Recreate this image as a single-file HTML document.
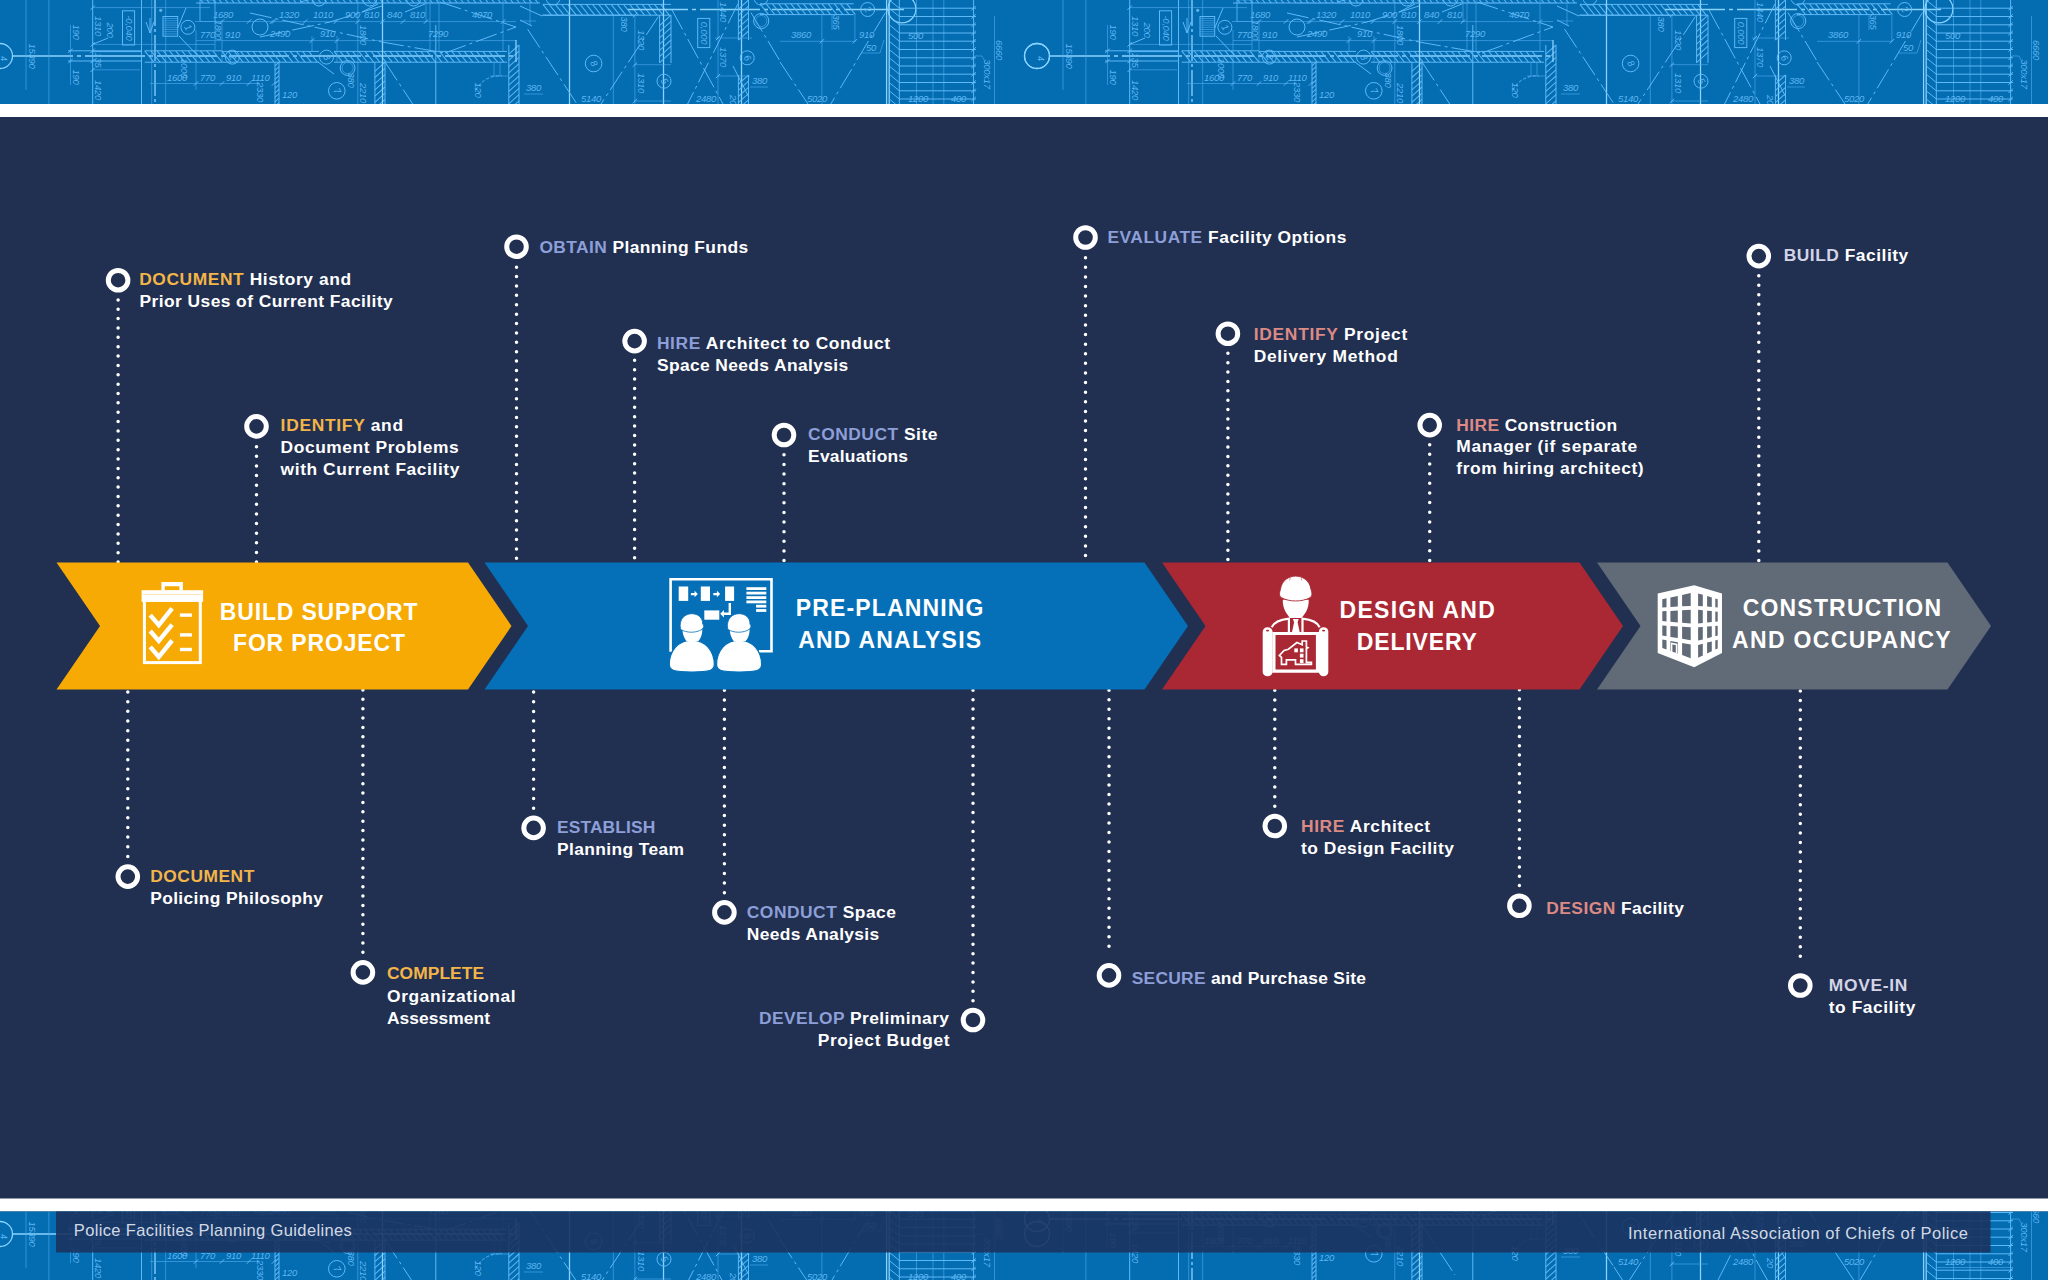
<!DOCTYPE html>
<html lang="en"><head><meta charset="utf-8"><title>Police Facilities Planning Guidelines</title>
<style>
html,body{margin:0;padding:0;background:#212f51;}
body{width:2048px;height:1280px;overflow:hidden;position:relative;font-family:"Liberation Sans",sans-serif;}
svg{position:absolute;left:0;top:0;display:block}
text{font-family:"Liberation Sans",sans-serif;}
.st{font-weight:bold;font-size:17.4px;fill:#fff}
.hd{font-weight:bold;font-size:23px;fill:#fff}
.ft{font-size:16.5px;fill:#e3e9f3;fill-opacity:.93}
.dl{stroke:#fff;stroke-width:3.5;stroke-linecap:round;fill:none}
.t,.m,.b,.h{fill:none}
.t{stroke:#4eaaec;stroke-width:.8;opacity:.8}
.m{stroke:#62bdfa;stroke-width:1;opacity:.95}
.h{stroke:#62bdfa;stroke-width:1.1;opacity:.9}
.b{stroke:#8ad2ff;stroke-width:1.3;opacity:1}
.bt{font-style:italic;font-size:9.5px;fill:#66bff9;opacity:.9;letter-spacing:-.3px}
</style></head><body>
<svg width="2048" height="1280" viewBox="0 0 2048 1280">
<defs>
<g id="bpt">
<circle class="b" cx="0.0" cy="56.0" r="12.5"/>
<circle class="b" cx="1037.0" cy="56.0" r="12.5"/>
<text class="bt" x="3" y="59" transform="rotate(80 3 56)">4</text>
<path class="b" d="M13,56H516" stroke-dasharray="60 4 4 4"/>
<path class="t" d="M26.0,0.0L26.0,90.0"/>
<path class="t" d="M48.9,0.0L48.9,125.0"/>
<path class="t" d="M70.5,25.0L70.5,85.0"/>
<path class="m" d="M92.7,0.0L92.7,125.0"/>
<path class="m" d="M141.5,0.0L141.5,125.0"/>
<path class="t" d="M151.7,0.0L151.7,125.0"/>
<path class="t" d="M165.7,0.0L165.7,125.0"/>
<path class="b" d="M155,0V125" stroke-dasharray="26 3 3 3"/>
<path class="t" d="M92.0,7.6L210.0,7.6"/>
<path class="t" d="M92.0,44.4L215.0,44.4"/>
<path class="m" d="M68.0,50.8L142.0,50.8"/>
<path class="m" d="M92.0,51.6L142.0,51.6"/>
<path class="m" d="M68.0,61.0L142.0,61.0"/>
<path class="t" d="M92.0,69.8L140.0,69.8"/>
<path class="t" d="M150.0,83.5L260.0,83.5"/>
<path class="t" d="M195.0,21.5L260.0,21.5"/>
<path class="m" d="M68.3,53.0l4.4,-4.4"/>
<path class="m" d="M68.3,63.2l4.4,-4.4"/>
<path class="m" d="M90.5,53.0l4.4,-4.4"/>
<path class="m" d="M90.5,63.2l4.4,-4.4"/>
<path class="m" d="M90.5,9.8l4.4,-4.4"/>
<path class="m" d="M90.5,46.6l4.4,-4.4"/>
<path class="m" d="M90.5,72.0l4.4,-4.4"/>
<rect class="m" x="122.5" y="10.8" width="12.1" height="34.2"/>
<text class="bt" text-anchor="middle" transform="translate(125.5 28.0) rotate(90)">-0,040</text>
<path class="m" d="M146,22l4,11l4,-11M150,18V33"/>
<rect class="m" x="163" y="16.5" width="14.7" height="19.7"/>
<path class="t" d="M163,18.5h14.7M163,20.7h14.7M163,22.9h14.7M163,25.1h14.7M163,27.3h14.7M163,29.5h14.7M163,31.7h14.7M163,33.9h14.7"/>
<circle cx="160.7" cy="10.3" r="1.6" fill="#7cc4f5" opacity=".8"/>
<path class="m" d="M177.7,28.0L186.0,8.0"/>
<path class="m" d="M179.0,36.0L200.0,58.0"/>
<path class="m" d="M92.7,44.4L108.0,38.0"/>
<circle class="m" cx="187.9" cy="27.3" r="7.0"/>
<text class="bt" x="187.9" y="30.3" text-anchor="middle" transform="rotate(60 187.9 27.3)">1</text>
<path class="m" d="M144.7,50.8L222.0,50.8"/>
<path class="m" d="M144.7,62.2L222.0,62.2"/>
<path class="h" d="M144.7,50.8l9.1,11.4M150.9,50.8l9.1,11.4M157.1,50.8l9.1,11.4M163.3,50.8l9.1,11.4M169.5,50.8l9.1,11.4M175.7,50.8l9.1,11.4M181.9,50.8l9.1,11.4M188.1,50.8l9.1,11.4M194.3,50.8l9.1,11.4M200.5,50.8l9.1,11.4M206.7,50.8l9.1,11.4M212.9,50.8l9.1,11.4"/>
<circle class="m" cx="232.3" cy="57.1" r="7.0"/>
<text class="bt" x="232.3" y="60.1" text-anchor="middle" transform="rotate(60 232.3 57.1)">2</text>
<text class="bt" text-anchor="middle" transform="translate(29.0 56.0) rotate(90)">15390</text>
<text class="bt" text-anchor="middle" transform="translate(73.0 32.0) rotate(90)">190</text>
<text class="bt" text-anchor="middle" transform="translate(73.0 77.0) rotate(90)">190</text>
<text class="bt" text-anchor="middle" transform="translate(95.0 26.0) rotate(90)">1310</text>
<text class="bt" text-anchor="middle" transform="translate(107.0 30.0) rotate(90)">200</text>
<text class="bt" text-anchor="middle" transform="translate(95.0 60.0) rotate(90)">135</text>
<text class="bt" text-anchor="middle" transform="translate(95.0 90.0) rotate(90)">1420</text>
<text class="bt" x="213.0" y="17.5">1680</text>
<text class="bt" x="200.0" y="38.0">770</text>
<text class="bt" x="225.0" y="38.0">910</text>
<text class="bt" x="167.0" y="80.5">1600</text>
<text class="bt" x="200.0" y="80.5">770</text>
<text class="bt" x="226.0" y="80.5">910</text>
<text class="bt" x="251.0" y="80.5">1110</text>
<text class="bt" text-anchor="middle" transform="translate(181.0 68.0) rotate(90)">1000</text>
<text class="bt" text-anchor="middle" transform="translate(215.0 30.0) rotate(90)">1800</text>
<text class="bt" text-anchor="middle" transform="translate(257.0 92.0) rotate(90)">2330</text>
<path class="m" d="M193.8,85.7l4.4,-4.4"/>
<path class="m" d="M219.8,85.7l4.4,-4.4"/>
<path class="m" d="M219.8,23.7l4.4,-4.4"/>
<path class="m" d="M246.8,85.7l4.4,-4.4"/>
<path class="m" d="M246.8,23.7l4.4,-4.4"/>
<path class="m" d="M271.8,85.7l4.4,-4.4"/>
<path class="m" d="M271.8,23.7l4.4,-4.4"/>
<path class="t" d="M196.0,30.0L196.0,90.0"/>
<path class="t" d="M222.0,20.0L222.0,62.0"/>
<path class="t" d="M215.0,0.0L215.0,50.0"/>
<path class="t" d="M200.0,0.0L200.0,22.0"/>
<rect class="t" x="200" y="0" width="15" height="21.5"/>
<path class="t" d="M196.0,40.6L260.0,40.6"/>
<path class="m" d="M196.0,-6.0L540.0,-6.0"/>
<path class="m" d="M196.0,3.0L540.0,3.0"/>
<path class="h" d="M196.0,-6.0l7.2,9.0M202.2,-6.0l7.2,9.0M208.4,-6.0l7.2,9.0M214.6,-6.0l7.2,9.0M220.8,-6.0l7.2,9.0M227.0,-6.0l7.2,9.0M233.2,-6.0l7.2,9.0M239.4,-6.0l7.2,9.0M245.6,-6.0l7.2,9.0M251.8,-6.0l7.2,9.0M258.0,-6.0l7.2,9.0M264.2,-6.0l7.2,9.0M270.4,-6.0l7.2,9.0M276.6,-6.0l7.2,9.0M282.8,-6.0l7.2,9.0M289.0,-6.0l7.2,9.0M295.2,-6.0l7.2,9.0M301.4,-6.0l7.2,9.0M307.6,-6.0l7.2,9.0M313.8,-6.0l7.2,9.0M320.0,-6.0l7.2,9.0M326.2,-6.0l7.2,9.0M332.4,-6.0l7.2,9.0M338.6,-6.0l7.2,9.0M344.8,-6.0l7.2,9.0M351.0,-6.0l7.2,9.0M357.2,-6.0l7.2,9.0M363.4,-6.0l7.2,9.0M369.6,-6.0l7.2,9.0M375.8,-6.0l7.2,9.0M382.0,-6.0l7.2,9.0M388.2,-6.0l7.2,9.0M394.4,-6.0l7.2,9.0M400.6,-6.0l7.2,9.0M406.8,-6.0l7.2,9.0M413.0,-6.0l7.2,9.0M419.2,-6.0l7.2,9.0M425.4,-6.0l7.2,9.0M431.6,-6.0l7.2,9.0M437.8,-6.0l7.2,9.0M444.0,-6.0l7.2,9.0M450.2,-6.0l7.2,9.0M456.4,-6.0l7.2,9.0M462.6,-6.0l7.2,9.0M468.8,-6.0l7.2,9.0M475.0,-6.0l7.2,9.0M481.2,-6.0l7.2,9.0M487.4,-6.0l7.2,9.0M493.6,-6.0l7.2,9.0M499.8,-6.0l7.2,9.0M506.0,-6.0l7.2,9.0M512.2,-6.0l7.2,9.0M518.4,-6.0l7.2,9.0M524.6,-6.0l7.2,9.0M530.8,-6.0l7.2,9.0"/>
<path class="m" d="M222.0,51.4L319.0,51.4"/>
<path class="m" d="M222.0,62.2L319.0,62.2"/>
<path class="h" d="M222.0,51.4l8.6,10.8M228.2,51.4l8.6,10.8M234.4,51.4l8.6,10.8M240.6,51.4l8.6,10.8M246.8,51.4l8.6,10.8M253.0,51.4l8.6,10.8M259.2,51.4l8.6,10.8M265.4,51.4l8.6,10.8M271.6,51.4l8.6,10.8M277.8,51.4l8.6,10.8M284.0,51.4l8.6,10.8M290.2,51.4l8.6,10.8M296.4,51.4l8.6,10.8M302.6,51.4l8.6,10.8M308.8,51.4l8.6,10.8"/>
<path class="m" d="M334.0,51.4L507.0,51.4"/>
<path class="m" d="M334.0,62.2L507.0,62.2"/>
<path class="h" d="M334.0,51.4l8.6,10.8M340.2,51.4l8.6,10.8M346.4,51.4l8.6,10.8M352.6,51.4l8.6,10.8M358.8,51.4l8.6,10.8M365.0,51.4l8.6,10.8M371.2,51.4l8.6,10.8M377.4,51.4l8.6,10.8M383.6,51.4l8.6,10.8M389.8,51.4l8.6,10.8M396.0,51.4l8.6,10.8M402.2,51.4l8.6,10.8M408.4,51.4l8.6,10.8M414.6,51.4l8.6,10.8M420.8,51.4l8.6,10.8M427.0,51.4l8.6,10.8M433.2,51.4l8.6,10.8M439.4,51.4l8.6,10.8M445.6,51.4l8.6,10.8M451.8,51.4l8.6,10.8M458.0,51.4l8.6,10.8M464.2,51.4l8.6,10.8M470.4,51.4l8.6,10.8M476.6,51.4l8.6,10.8M482.8,51.4l8.6,10.8M489.0,51.4l8.6,10.8M495.2,51.4l8.6,10.8"/>
<path class="m" d="M374.9,62.2L374.9,125.0"/>
<path class="m" d="M385.0,62.2L385.0,125.0"/>
<path class="h" d="M374.9,71.3l10.1,-9.1M374.9,77.5l10.1,-9.1M374.9,83.7l10.1,-9.1M374.9,89.9l10.1,-9.1M374.9,96.1l10.1,-9.1M374.9,102.3l10.1,-9.1M374.9,108.5l10.1,-9.1M374.9,114.7l10.1,-9.1M374.9,120.9l10.1,-9.1M374.9,127.1l10.1,-9.1"/>
<path class="m" d="M275.0,62.2L275.0,125.0"/>
<path class="m" d="M279.0,62.2L279.0,125.0"/>
<path class="h" d="M275.0,65.8l4.0,-3.6M275.0,70.3l4.0,-3.6M275.0,74.8l4.0,-3.6M275.0,79.3l4.0,-3.6M275.0,83.8l4.0,-3.6M275.0,88.3l4.0,-3.6M275.0,92.8l4.0,-3.6M275.0,97.3l4.0,-3.6M275.0,101.8l4.0,-3.6M275.0,106.3l4.0,-3.6M275.0,110.8l4.0,-3.6M275.0,115.3l4.0,-3.6M275.0,119.8l4.0,-3.6M275.0,124.3l4.0,-3.6"/>
<path class="m" d="M508.8,45.0L508.8,125.0"/>
<path class="m" d="M519.0,45.0L519.0,125.0"/>
<path class="h" d="M508.8,54.2l10.2,-9.2M508.8,60.4l10.2,-9.2M508.8,66.6l10.2,-9.2M508.8,72.8l10.2,-9.2M508.8,79.0l10.2,-9.2M508.8,85.2l10.2,-9.2M508.8,91.4l10.2,-9.2M508.8,97.6l10.2,-9.2M508.8,103.8l10.2,-9.2M508.8,110.0l10.2,-9.2M508.8,116.2l10.2,-9.2M508.8,122.4l10.2,-9.2"/>
<path class="b" d="M382.5,0.0L382.5,125.0"/>
<path class="m" d="M435.8,25.0L435.8,125.0"/>
<path class="t" d="M357.8,0.0L357.8,125.0"/>
<path class="t" d="M430.0,0.0L430.0,52.0"/>
<path class="t" d="M439.0,0.0L439.0,52.0"/>
<path class="t" d="M312.0,36.0L312.0,52.0"/>
<path class="t" d="M337.0,36.0L337.0,62.0"/>
<path class="t" d="M426.0,0.0L426.0,22.0"/>
<path class="t" d="M503.0,0.0L503.0,52.0"/>
<path class="t" d="M260.0,21.6L516.0,21.6"/>
<path class="t" d="M260.0,40.6L516.0,40.6"/>
<path class="t" d="M260.0,3.0L520.0,3.0"/>
<path class="m" d="M269.8,23.8l4.4,-4.4"/>
<path class="m" d="M302.8,23.8l4.4,-4.4"/>
<path class="m" d="M333.8,23.8l4.4,-4.4"/>
<path class="m" d="M355.6,23.8l4.4,-4.4"/>
<path class="m" d="M380.3,23.8l4.4,-4.4"/>
<path class="m" d="M400.8,23.8l4.4,-4.4"/>
<path class="m" d="M423.8,23.8l4.4,-4.4"/>
<path class="m" d="M500.8,23.8l4.4,-4.4"/>
<path class="m" d="M309.8,42.8l4.4,-4.4"/>
<path class="m" d="M334.8,42.8l4.4,-4.4"/>
<path class="m" d="M250.0,13.0L382.0,42.0" stroke-dasharray="22 4 3 4"/>
<path class="m" d="M382.0,42.0L445.0,53.0" stroke-dasharray="22 4 3 4"/>
<path class="m" d="M445.0,53.0L516.0,27.0" stroke-dasharray="22 4 3 4"/>
<path class="m" d="M440.0,2.0L516.0,27.0" stroke-dasharray="22 4 3 4"/>
<path class="m" d="M260.0,37.0L330.0,22.0" stroke-dasharray="22 4 3 4"/>
<path class="m" d="M330.0,22.0L382.0,6.0" stroke-dasharray="22 4 3 4"/>
<path class="m" d="M318.0,62.0L334.0,74.0"/>
<path class="m" d="M300.0,2.0L340.0,-8.0"/>
<path class="m" d="M362.0,12.0L378.0,4.0"/>
<path class="m" d="M405.0,12.0L425.0,4.0"/>
<circle class="m" cx="326.5" cy="57.1" r="7.0"/>
<text class="bt" x="326.5" y="60.1" text-anchor="middle" transform="rotate(60 326.5 57.1)">3</text>
<circle class="m" cx="336.8" cy="90.8" r="8.3"/>
<text class="bt" x="336.8" y="93.8" text-anchor="middle" transform="rotate(60 336.8 90.8)">7</text>
<circle class="m" cx="347.6" cy="68.0" r="7.4"/>
<circle class="t" cx="347.6" cy="68.0" r="5.6"/>
<circle class="m" cx="319.0" cy="-1.0" r="7.0"/>
<circle class="m" cx="369.8" cy="-1.0" r="7.0"/>
<circle class="m" cx="413.6" cy="-1.0" r="7.0"/>
<circle class="m" cx="260.0" cy="27.0" r="8.0"/>
<text class="bt" x="279.0" y="18.0">1320</text>
<text class="bt" x="313.0" y="18.0">1010</text>
<text class="bt" x="345.0" y="18.0">900</text>
<text class="bt" x="364.0" y="18.0">810</text>
<text class="bt" x="387.0" y="18.0">840</text>
<text class="bt" x="410.0" y="18.0">810</text>
<text class="bt" x="472.0" y="18.0">4070</text>
<text class="bt" x="270.0" y="37.0">2490</text>
<text class="bt" x="320.0" y="37.0">910</text>
<text class="bt" text-anchor="middle" transform="translate(360.0 35.0) rotate(90)">1800</text>
<text class="bt" x="428.0" y="37.0">7290</text>
<text class="bt" text-anchor="middle" transform="translate(360.0 93.0) rotate(90)">2210</text>
<text class="bt" x="282.0" y="98.0">120</text>
<text class="bt" text-anchor="middle" transform="translate(475.0 90.0) rotate(90)">120</text>
<text class="bt" text-anchor="middle" transform="translate(348.0 80.0) rotate(90)">380</text>
<path class="m" d="M385.0,62.0L418.0,112.0" stroke-dasharray="22 4 3 4"/>
<path class="m" d="M476,90a26,26 0 0 1 26,-14" stroke-dasharray="3 2"/>
<path class="t" d="M490.0,76.0L508.0,76.0"/>
<path class="t" d="M494.0,62.0L494.0,76.0"/>
<path class="t" d="M500.0,62.0L500.0,76.0"/>
<path class="b" d="M516.0,40.0L516.0,62.0"/>
<path class="m" d="M542.9,4.4L671.0,4.4"/>
<path class="m" d="M542.9,15.2L671.0,15.2"/>
<path class="h" d="M542.9,4.4l8.6,10.8M549.1,4.4l8.6,10.8M555.3,4.4l8.6,10.8M561.5,4.4l8.6,10.8M567.7,4.4l8.6,10.8M573.9,4.4l8.6,10.8M580.1,4.4l8.6,10.8M586.3,4.4l8.6,10.8M592.5,4.4l8.6,10.8M598.7,4.4l8.6,10.8M604.9,4.4l8.6,10.8M611.1,4.4l8.6,10.8M617.3,4.4l8.6,10.8M623.5,4.4l8.6,10.8M629.7,4.4l8.6,10.8M635.9,4.4l8.6,10.8M642.1,4.4l8.6,10.8M648.3,4.4l8.6,10.8M654.5,4.4l8.6,10.8M660.7,4.4l8.6,10.8"/>
<path class="b" d="M628,9.5H907" stroke-dasharray="60 4 4 4"/>
<path class="b" d="M569.5,0.0L569.5,125.0"/>
<path class="b" d="M663.5,0.0L663.5,125.0"/>
<path class="t" d="M613.3,15.0L613.3,125.0"/>
<path class="t" d="M634.9,15.0L634.9,125.0"/>
<path class="t" d="M718.0,0.0L718.0,125.0"/>
<path class="b" d="M741.5,0.0L741.5,125.0"/>
<path class="m" d="M659.6,15.2L659.6,63.0"/>
<path class="m" d="M671.0,15.2L671.0,63.0"/>
<path class="h" d="M659.6,25.5l11.4,-10.3M659.6,31.7l11.4,-10.3M659.6,37.9l11.4,-10.3M659.6,44.1l11.4,-10.3M659.6,50.3l11.4,-10.3M659.6,56.5l11.4,-10.3M659.6,62.7l11.4,-10.3"/>
<path class="m" d="M738.4,0.0L738.4,40.0"/>
<path class="m" d="M748.5,0.0L748.5,40.0"/>
<path class="h" d="M738.4,9.1l10.1,-9.1M738.4,15.3l10.1,-9.1M738.4,21.5l10.1,-9.1M738.4,27.7l10.1,-9.1M738.4,33.9l10.1,-9.1M738.4,40.1l10.1,-9.1"/>
<path class="m" d="M738.4,75.0L738.4,125.0"/>
<path class="m" d="M748.5,75.0L748.5,125.0"/>
<path class="h" d="M738.4,84.1l10.1,-9.1M738.4,90.3l10.1,-9.1M738.4,96.5l10.1,-9.1M738.4,102.7l10.1,-9.1M738.4,108.9l10.1,-9.1M738.4,115.1l10.1,-9.1M738.4,121.3l10.1,-9.1M738.4,127.5l10.1,-9.1"/>
<path class="m" d="M527.6,29.2L577.0,104.0" stroke-dasharray="22 4 3 4"/>
<path class="m" d="M658.4,16.5L601.0,104.0" stroke-dasharray="22 4 3 4"/>
<path class="m" d="M672.0,10.0L723.0,104.0" stroke-dasharray="22 4 3 4"/>
<path class="m" d="M738.0,3.8L687.6,104.0" stroke-dasharray="22 4 3 4"/>
<path class="m" d="M751.0,12.7L780.0,61.0" stroke-dasharray="22 4 3 4"/>
<path class="m" d="M577.0,104.0L590.0,124.0" stroke-dasharray="22 4 3 4"/>
<path class="m" d="M601.0,104.0L590.0,121.0" stroke-dasharray="22 4 3 4"/>
<path class="m" d="M723.0,104.0L735.0,125.0" stroke-dasharray="22 4 3 4"/>
<path class="m" d="M687.6,104.0L677.0,125.0" stroke-dasharray="22 4 3 4"/>
<path class="m" d="M733.0,66.0L748.5,96.5"/>
<path class="m" d="M520.0,6.0L542.0,16.0"/>
<path class="m" d="M520.0,20.0L532.0,26.0"/>
<path class="t" d="M530.0,0.0L530.0,26.0"/>
<path class="t" d="M520.0,21.0L536.0,21.0"/>
<path class="t" d="M715.0,38.0L752.0,38.0"/>
<path class="t" d="M634.0,64.7L671.0,64.7"/>
<path class="t" d="M718.0,76.0L750.0,76.0"/>
<path class="t" d="M634.0,101.0L671.0,101.0"/>
<path class="m" d="M542.0,15.2L634.0,15.2"/>
<path class="m" d="M715.8,40.2l4.4,-4.4"/>
<path class="m" d="M715.8,78.2l4.4,-4.4"/>
<path class="m" d="M632.7,17.4l4.4,-4.4"/>
<path class="m" d="M632.7,66.9l4.4,-4.4"/>
<path class="m" d="M632.7,103.2l4.4,-4.4"/>
<circle class="m" cx="593.6" cy="63.5" r="8.3"/>
<text class="bt" x="593.6" y="66.5" text-anchor="middle" transform="rotate(60 593.6 63.5)">8</text>
<circle class="m" cx="664.0" cy="81.2" r="7.0"/>
<text class="bt" x="664.0" y="84.2" text-anchor="middle" transform="rotate(60 664.0 81.2)">5</text>
<circle class="m" cx="747.2" cy="57.8" r="7.0"/>
<text class="bt" x="747.2" y="60.8" text-anchor="middle" transform="rotate(60 747.2 57.8)">6</text>
<circle class="m" cx="761.2" cy="21.0" r="7.6"/>
<circle class="t" cx="761.2" cy="21.0" r="5.6"/>
<circle class="m" cx="553.0" cy="-2.0" r="7.0"/>
<circle class="m" cx="761.0" cy="-2.0" r="7.0"/>
<rect class="m" x="697.7" y="18.4" width="12.1" height="29.2"/>
<text class="bt" text-anchor="middle" transform="translate(700.7 33.0) rotate(90)">0,000</text>
<text class="bt" text-anchor="middle" transform="translate(621.0 24.0) rotate(90)">380</text>
<text class="bt" text-anchor="middle" transform="translate(638.0 40.0) rotate(90)">1320</text>
<text class="bt" text-anchor="middle" transform="translate(638.0 83.0) rotate(90)">1310</text>
<text class="bt" x="526.0" y="91.0">380</text>
<path class="t" d="M524.0,94.0L543.0,94.0"/>
<text class="bt" x="581.0" y="102.0">5140</text>
<text class="bt" text-anchor="middle" transform="translate(720.0 12.0) rotate(90)">1440</text>
<text class="bt" text-anchor="middle" transform="translate(720.0 57.0) rotate(90)">1370</text>
<text class="bt" x="752.0" y="84.0">380</text>
<path class="t" d="M750.0,87.0L768.0,87.0"/>
<text class="bt" x="696.0" y="102.0">2480</text>
<text class="bt" text-anchor="middle" transform="translate(730.0 100.0) rotate(90)">20</text>
<path class="m" d="M760.0,3.8L853.6,3.8"/>
<path class="m" d="M760.0,14.6L853.6,14.6"/>
<path class="h" d="M760.0,3.8l8.6,10.8M766.2,3.8l8.6,10.8M772.4,3.8l8.6,10.8M778.6,3.8l8.6,10.8M784.8,3.8l8.6,10.8M791.0,3.8l8.6,10.8M797.2,3.8l8.6,10.8M803.4,3.8l8.6,10.8M809.6,3.8l8.6,10.8M815.8,3.8l8.6,10.8M822.0,3.8l8.6,10.8M828.2,3.8l8.6,10.8M834.4,3.8l8.6,10.8M840.6,3.8l8.6,10.8M846.8,3.8l8.6,10.8"/>
<circle class="m" cx="867.6" cy="9.5" r="7.0"/>
<text class="bt" x="867.6" y="12.5" text-anchor="middle" transform="rotate(60 867.6 9.5)">2</text>
<circle class="b" cx="901.9" cy="8.9" r="14.0"/>
<path class="t" d="M821.9,15.0L821.9,125.0"/>
<path class="t" d="M854.9,15.0L854.9,42.0"/>
<path class="b" d="M886.6,0.0L886.6,125.0"/>
<path class="b" d="M889.2,0.0L889.2,125.0"/>
<path class="m" d="M899.3,0.0L899.3,125.0"/>
<path class="t" d="M916.5,0.0L916.5,125.0"/>
<path class="t" d="M933.0,0.0L933.0,125.0"/>
<path class="t" d="M943.8,0.0L943.8,125.0"/>
<path class="m" d="M973.6,0.0L973.6,125.0"/>
<path class="t" d="M994.5,16.0L994.5,125.0"/>
<path class="m" d="M899.3,8.2L976.0,8.2"/>
<path class="m" d="M971.4,10.4l4.4,-4.4"/>
<path class="m" d="M889.2,0.0L899.3,8.2"/>
<path class="m" d="M899.3,16.5L976.0,16.5"/>
<path class="m" d="M971.4,18.7l4.4,-4.4"/>
<path class="m" d="M889.2,8.2L899.3,16.5"/>
<path class="m" d="M899.3,24.8L976.0,24.8"/>
<path class="m" d="M971.4,26.9l4.4,-4.4"/>
<path class="m" d="M889.2,16.5L899.3,24.8"/>
<path class="m" d="M899.3,33.0L976.0,33.0"/>
<path class="m" d="M971.4,35.2l4.4,-4.4"/>
<path class="m" d="M889.2,24.8L899.3,33.0"/>
<path class="m" d="M899.3,41.2L976.0,41.2"/>
<path class="m" d="M971.4,43.5l4.4,-4.4"/>
<path class="m" d="M889.2,33.0L899.3,41.2"/>
<path class="m" d="M899.3,49.5L976.0,49.5"/>
<path class="m" d="M971.4,51.7l4.4,-4.4"/>
<path class="m" d="M889.2,41.2L899.3,49.5"/>
<path class="m" d="M899.3,57.8L976.0,57.8"/>
<path class="m" d="M971.4,60.0l4.4,-4.4"/>
<path class="m" d="M889.2,49.5L899.3,57.8"/>
<path class="m" d="M899.3,66.0L976.0,66.0"/>
<path class="m" d="M971.4,68.2l4.4,-4.4"/>
<path class="m" d="M889.2,57.8L899.3,66.0"/>
<path class="m" d="M899.3,74.2L976.0,74.2"/>
<path class="m" d="M971.4,76.5l4.4,-4.4"/>
<path class="m" d="M889.2,66.0L899.3,74.2"/>
<path class="m" d="M899.3,82.5L976.0,82.5"/>
<path class="m" d="M971.4,84.7l4.4,-4.4"/>
<path class="m" d="M889.2,74.2L899.3,82.5"/>
<path class="m" d="M899.3,90.8L976.0,90.8"/>
<path class="m" d="M971.4,93.0l4.4,-4.4"/>
<path class="m" d="M889.2,82.5L899.3,90.8"/>
<path class="m" d="M899.3,99.0L976.0,99.0"/>
<path class="m" d="M971.4,101.2l4.4,-4.4"/>
<path class="m" d="M889.2,90.8L899.3,99.0"/>
<path class="m" d="M899.3,107.2L976.0,107.2"/>
<path class="m" d="M971.4,109.5l4.4,-4.4"/>
<path class="m" d="M889.2,99.0L899.3,107.2"/>
<path class="m" d="M899.3,115.5L976.0,115.5"/>
<path class="m" d="M971.4,117.7l4.4,-4.4"/>
<path class="m" d="M889.2,107.2L899.3,115.5"/>
<path class="t" d="M780.0,41.3L855.0,41.3"/>
<path class="m" d="M819.7,43.5l4.4,-4.4"/>
<path class="m" d="M852.7,43.5l4.4,-4.4"/>
<text class="bt" x="791.0" y="38.0">3860</text>
<text class="bt" x="859.0" y="38.0">910</text>
<text class="bt" x="866.0" y="51.0">50</text>
<path class="t" d="M862.0,53.0L880.0,53.0"/>
<path class="t" d="M880.0,53.0L884.0,40.0"/>
<text class="bt" x="908.0" y="39.0">500</text>
<text class="bt" x="807.0" y="102.0">5020</text>
<text class="bt" x="908.0" y="102.0">1200</text>
<text class="bt" x="951.0" y="102.0">400</text>
<text class="bt" text-anchor="middle" transform="translate(984.0 74.0) rotate(90)">300x17</text>
<text class="bt" text-anchor="middle" transform="translate(996.0 50.0) rotate(90)">6660</text>
<text class="bt" text-anchor="middle" transform="translate(833.0 22.0) rotate(90)">365</text>
<path class="t" d="M899.0,104.5L976.0,104.5"/>
<path class="t" d="M832.0,14.6L832.0,30.0"/>
<path class="m" d="M780.0,62.0L808.0,104.0" stroke-dasharray="22 4 3 4"/>
<path class="m" d="M885.4,12.7L830.8,104.0" stroke-dasharray="22 4 3 4"/>
<path class="m" d="M808.0,104.0L820.0,122.0" stroke-dasharray="22 4 3 4"/>
<path class="m" d="M830.8,104.0L820.0,122.0" stroke-dasharray="22 4 3 4"/>
<path class="t" d="M976.0,56.0L982.0,56.0"/>
<path class="t" d="M982.0,56.0L984.0,60.0"/>
</g>
<clipPath id="ct"><rect x="0" y="0" width="2048" height="104"/></clipPath><clipPath id="cb"><rect x="0" y="1211.5" width="2048" height="68.5"/></clipPath>
</defs>
<rect x="0" y="0" width="2048" height="1280" fill="#212f51"/>
<g id="topband"><rect x="0" y="0" width="2048" height="104" fill="#046cb1"/><g clip-path="url(#ct)"><use href="#bpt"/><use href="#bpt" x="1037"/></g></g>
<rect x="0" y="104" width="2048" height="13" fill="#fff"/>
<rect x="0" y="1198.5" width="2048" height="13" fill="#fff"/>
<g id="botband"><rect x="0" y="1211.5" width="2048" height="69" fill="#046cb1"/><g clip-path="url(#cb)"><use href="#bpt" x="0" y="1178"/><use href="#bpt" x="1037" y="1163"/></g></g>
<rect x="56" y="1211.5" width="1934.5" height="41" fill="#1b3361" fill-opacity="0.9"/>
<text class="ft" x="73.8" y="1236" textLength="278">Police Facilities Planning Guidelines</text>
<text class="ft" x="1628" y="1238.7" textLength="340">International Association of Chiefs of Police</text>
<path class="dl" d="M118.1,299.9V562.01" stroke-dasharray="0 9.361"/>
<path class="dl" d="M256.5,446.7V562.01" stroke-dasharray="0 9.608"/>
<path class="dl" d="M516.5,267.2V558.31" stroke-dasharray="0 9.390"/>
<path class="dl" d="M634.6,360.3V557.71" stroke-dasharray="0 9.400"/>
<path class="dl" d="M784.0,454.8V560.51" stroke-dasharray="0 9.609"/>
<path class="dl" d="M1085.5,257.7V555.51" stroke-dasharray="0 9.606"/>
<path class="dl" d="M1227.9,353.3V559.61" stroke-dasharray="0 9.377"/>
<path class="dl" d="M1429.7,444.7V560.51" stroke-dasharray="0 9.650"/>
<path class="dl" d="M1758.8,275.8V560.51" stroke-dasharray="0 9.490"/>
<path class="dl" d="M127.8,692.0V856.41" stroke-dasharray="0 9.671"/>
<path class="dl" d="M362.9,690.0V952.31" stroke-dasharray="0 9.368"/>
<path class="dl" d="M533.6,692.0V808.31" stroke-dasharray="0 9.692"/>
<path class="dl" d="M724.4,690.3V892.71" stroke-dasharray="0 9.638"/>
<path class="dl" d="M973.0,690.3V1000.71" stroke-dasharray="0 9.406"/>
<path class="dl" d="M1109.0,690.3V955.71" stroke-dasharray="0 9.479"/>
<path class="dl" d="M1274.8,690.3V806.31" stroke-dasharray="0 9.667"/>
<path class="dl" d="M1519.4,689.8V885.61" stroke-dasharray="0 9.324"/>
<path class="dl" d="M1800.3,691.1V965.61" stroke-dasharray="0 9.466"/>
<polygon fill="#f6aa03" points="56.5,562.5 468,562.5 511.5,626.0 468,689.5 56.5,689.5 100.0,626.0"/>
<polygon fill="#0570b8" points="484.5,562.5 1144.5,562.5 1188.0,626.0 1144.5,689.5 484.5,689.5 528.0,626.0"/>
<polygon fill="#aa2834" points="1162,562.5 1579.5,562.5 1623.0,626.0 1579.5,689.5 1162,689.5 1205.5,626.0"/>
<polygon fill="#616a77" points="1597,562.5 1947.5,562.5 1991.0,626.0 1947.5,689.5 1597,689.5 1640.5,626.0"/>
<circle cx="118.1" cy="280.2" r="9.8" fill="#212f51" stroke="#fff" stroke-width="5"/>
<text class="st" x="139.2" y="284.9" textLength="211.8" xml:space="preserve"><tspan fill="#f3b548">DOCUMENT</tspan> History and</text>
<text class="st" x="139.5" y="306.6" textLength="253.2" xml:space="preserve">Prior Uses of Current Facility</text>
<circle cx="256.5" cy="426.4" r="9.8" fill="#212f51" stroke="#fff" stroke-width="5"/>
<text class="st" x="280.6" y="431.1" textLength="122.4" xml:space="preserve"><tspan fill="#f3b548">IDENTIFY</tspan> and</text>
<text class="st" x="280.6" y="453.1" textLength="178.1" xml:space="preserve">Document Problems</text>
<text class="st" x="280.6" y="474.9" textLength="178.8" xml:space="preserve">with Current Facility</text>
<circle cx="516.5" cy="246.7" r="9.8" fill="#212f51" stroke="#fff" stroke-width="5"/>
<text class="st" x="539.4" y="252.8" textLength="208.7" xml:space="preserve"><tspan fill="#8d9fd8">OBTAIN</tspan> Planning Funds</text>
<circle cx="634.6" cy="341.1" r="9.8" fill="#212f51" stroke="#fff" stroke-width="5"/>
<text class="st" x="656.9" y="348.6" textLength="233.1" xml:space="preserve"><tspan fill="#8d9fd8">HIRE</tspan> Architect to Conduct</text>
<text class="st" x="656.9" y="370.6" textLength="191.3" xml:space="preserve">Space Needs Analysis</text>
<circle cx="784.0" cy="435.0" r="9.8" fill="#212f51" stroke="#fff" stroke-width="5"/>
<text class="st" x="808.1" y="439.9" textLength="129.3" xml:space="preserve"><tspan fill="#8d9fd8">CONDUCT</tspan> Site</text>
<text class="st" x="808.1" y="461.9" textLength="99.9" xml:space="preserve">Evaluations</text>
<circle cx="1085.5" cy="237.5" r="9.8" fill="#212f51" stroke="#fff" stroke-width="5"/>
<text class="st" x="1107.4" y="243.1" textLength="238.9" xml:space="preserve"><tspan fill="#8d9fd8">EVALUATE</tspan> Facility Options</text>
<circle cx="1227.9" cy="333.7" r="9.8" fill="#212f51" stroke="#fff" stroke-width="5"/>
<text class="st" x="1253.7" y="340.2" textLength="153.5" xml:space="preserve"><tspan fill="#dc8a84">IDENTIFY</tspan> Project</text>
<text class="st" x="1253.7" y="361.8" textLength="144.1" xml:space="preserve">Delivery Method</text>
<circle cx="1429.7" cy="425.1" r="9.8" fill="#212f51" stroke="#fff" stroke-width="5"/>
<text class="st" x="1456.3" y="430.5" textLength="160.9" xml:space="preserve"><tspan fill="#dc8a84">HIRE</tspan> Construction</text>
<text class="st" x="1456.3" y="452.3" textLength="180.9" xml:space="preserve">Manager (if separate</text>
<text class="st" x="1456.3" y="474.3" textLength="187.3" xml:space="preserve">from hiring architect)</text>
<circle cx="1758.8" cy="256.1" r="9.8" fill="#212f51" stroke="#fff" stroke-width="5"/>
<text class="st" x="1783.7" y="260.6" textLength="124.5" xml:space="preserve"><tspan fill="#d3d4e6">BUILD</tspan> Facility</text>
<circle cx="127.8" cy="876.6" r="9.8" fill="#212f51" stroke="#fff" stroke-width="5"/>
<text class="st" x="150.2" y="882.3" textLength="104.1" xml:space="preserve"><tspan fill="#f3b548">DOCUMENT</tspan></text>
<text class="st" x="150.2" y="904.3" textLength="172.8" xml:space="preserve">Policing Philosophy</text>
<circle cx="362.9" cy="972.4" r="9.8" fill="#212f51" stroke="#fff" stroke-width="5"/>
<text class="st" x="387.0" y="979.3" textLength="97.0" xml:space="preserve"><tspan fill="#f3b548">COMPLETE</tspan></text>
<text class="st" x="387.0" y="1001.6" textLength="128.7" xml:space="preserve">Organizational</text>
<text class="st" x="387.0" y="1023.8" textLength="103.0" xml:space="preserve">Assessment</text>
<circle cx="533.6" cy="827.9" r="9.8" fill="#212f51" stroke="#fff" stroke-width="5"/>
<text class="st" x="557.0" y="832.7" textLength="98.3" xml:space="preserve"><tspan fill="#8d9fd8">ESTABLISH</tspan></text>
<text class="st" x="557.0" y="854.6" textLength="127.0" xml:space="preserve">Planning Team</text>
<circle cx="724.4" cy="912.4" r="9.8" fill="#212f51" stroke="#fff" stroke-width="5"/>
<text class="st" x="746.8" y="917.7" textLength="149.1" xml:space="preserve"><tspan fill="#8d9fd8">CONDUCT</tspan> Space</text>
<text class="st" x="746.8" y="939.8" textLength="132.4" xml:space="preserve">Needs Analysis</text>
<circle cx="973.0" cy="1020.0" r="9.8" fill="#212f51" stroke="#fff" stroke-width="5"/>
<text class="st" x="759.0" y="1023.5" textLength="190.0" xml:space="preserve"><tspan fill="#8d9fd8">DEVELOP</tspan> Preliminary</text>
<text class="st" x="817.7" y="1045.7" textLength="131.9" xml:space="preserve">Project Budget</text>
<circle cx="1109.0" cy="975.4" r="9.8" fill="#212f51" stroke="#fff" stroke-width="5"/>
<text class="st" x="1131.7" y="983.5" textLength="234.3" xml:space="preserve"><tspan fill="#8d9fd8">SECURE</tspan> and Purchase Site</text>
<circle cx="1274.8" cy="826.0" r="9.8" fill="#212f51" stroke="#fff" stroke-width="5"/>
<text class="st" x="1301.0" y="832.1" textLength="129.1" xml:space="preserve"><tspan fill="#dc8a84">HIRE</tspan> Architect</text>
<text class="st" x="1301.0" y="854.1" textLength="152.9" xml:space="preserve">to Design Facility</text>
<circle cx="1519.4" cy="905.8" r="9.8" fill="#212f51" stroke="#fff" stroke-width="5"/>
<text class="st" x="1546.3" y="913.6" textLength="137.7" xml:space="preserve"><tspan fill="#dc8a84">DESIGN</tspan> Facility</text>
<circle cx="1800.3" cy="985.5" r="9.8" fill="#212f51" stroke="#fff" stroke-width="5"/>
<text class="st" x="1828.8" y="990.5" textLength="78.5" xml:space="preserve"><tspan fill="#d3d4e6">MOVE-IN</tspan></text>
<text class="st" x="1828.8" y="1012.5" textLength="86.5" xml:space="preserve">to Facility</text>
<text class="hd" x="219.8" y="619.8" textLength="197.8">BUILD SUPPORT</text>
<text class="hd" x="233" y="651.2" textLength="172.0">FOR PROJECT</text>
<text class="hd" x="795.8" y="616.4" textLength="187.7">PRE-PLANNING</text>
<text class="hd" x="798.2" y="647.8" textLength="182.9">AND ANALYSIS</text>
<text class="hd" x="1339.5" y="618.4" textLength="155.4">DESIGN AND</text>
<text class="hd" x="1356.8" y="649.8" textLength="120.1">DELIVERY</text>
<text class="hd" x="1742.7" y="616.4" textLength="198.3">CONSTRUCTION</text>
<text class="hd" x="1732.0" y="647.6" textLength="218.7">AND OCCUPANCY</text>
<g id="ico1" fill="#fff">
<path fill-rule="evenodd" d="M161.4,582.0H182.9V590.6H161.4Z M164.8,586.3H179.4V589.9H164.8Z"/>
<rect x="141.6" y="590.2" width="61.5" height="11.6"/>
<rect x="142.9" y="594.3" width="58.9" height="0.5" fill="#f6aa03" opacity="0.6"/>
<rect x="144.4" y="600.3" width="55.9" height="62.3" fill="none" stroke="#fff" stroke-width="3.0"/>
<polyline fill="none" stroke="#fff" stroke-width="4.4" stroke-linecap="butt" stroke-linejoin="miter" points="150.2,615.1 158.8,625.0 172.1,608.3"/>
<polyline fill="none" stroke="#fff" stroke-width="4.4" stroke-linecap="butt" stroke-linejoin="miter" points="150.2,631.0 158.8,640.9 172.1,624.6"/>
<polyline fill="none" stroke="#fff" stroke-width="4.4" stroke-linecap="butt" stroke-linejoin="miter" points="150.2,646.9 158.8,656.8 172.1,640.5"/>
<rect x="179.9" y="613.4" width="12.0" height="3.4"/>
<rect x="179.9" y="633.2" width="12.0" height="3.4"/>
<rect x="179.9" y="647.8" width="12.0" height="3.4"/>
</g>
<g id="ico2" fill="#fff">
<path fill="none" stroke="#fff" stroke-width="2.6" d="M758.9,651.2H771.5V579.2H670.6V651.7"/>
<rect x="678.7" y="586.5" width="9.5" height="14.4"/>
<rect x="700.8" y="586.5" width="9.2" height="14.4"/>
<rect x="725.1" y="586.5" width="9.0" height="14.4"/>
<rect x="704.3" y="610.4" width="15.0" height="9.3"/>
<path d="M690.9,593.0H694.6V590.8L697.8,594.1L694.6,597.3V595.2H690.9Z"/>
<path d="M713.3,593.0H716.9V590.8L720.2,594.1L716.9,597.3V595.2H713.3Z"/>
<path fill="none" stroke="#fff" stroke-width="2.4" d="M729.8,603.1V613.7H723.2"/>
<path d="M720.2,613.7L724.0,610.0V617.4Z"/>
<rect x="746.4" y="587.2" width="19.9" height="2.8"/>
<rect x="746.4" y="591.7" width="19.9" height="2.8"/>
<rect x="746.4" y="596.2" width="19.9" height="2.8"/>
<rect x="746.4" y="600.5" width="19.9" height="2.8"/>
<rect x="756.1" y="604.8" width="10.2" height="2.8"/>
<rect x="756.1" y="609.1" width="10.2" height="2.8"/>
<path stroke="#0570b8" stroke-width="1.2" d="M669.3,664.6C669.3,650.8 678.5,640.1 691.8,640.1C705.1,640.1 714.3,650.8 714.3,664.6C714.3,670.6 709.9,672.0 691.8,672.0C673.8,672.0 669.3,670.6 669.3,664.6Z"/><path d="M682.5,629.3C682.5,635.3 684.9,638.8 686.6,641.3H698.3C700.4,638.8 702.3,635.3 702.3,629.3Z"/><path stroke="#0570b8" stroke-width="0.8" d="M680.5,629.3C678.5,618.1 685.8,613.7 691.8,613.7C697.8,613.7 703.0,617.7 702.7,624.2C704.3,625.0 704.0,627.2 702.1,629.3C696.1,633.2 686.6,633.2 680.5,629.3Z"/>
<path stroke="#0570b8" stroke-width="1.2" d="M716.6,664.6C716.6,650.8 725.8,640.1 739.1,640.1C752.4,640.1 761.6,650.8 761.6,664.6C761.6,670.6 757.1,672.0 739.1,672.0C721.0,672.0 716.6,670.6 716.6,664.6Z"/><path d="M729.8,629.3C729.8,635.3 732.2,638.8 733.9,641.3H745.5C747.7,638.8 749.6,635.3 749.6,629.3Z"/><path stroke="#0570b8" stroke-width="0.8" d="M727.7,629.3C725.8,618.1 733.1,613.7 739.1,613.7C745.1,613.7 750.3,617.7 750.0,624.2C751.5,625.0 751.3,627.2 749.4,629.3C743.4,633.2 733.9,633.2 727.7,629.3Z"/>
</g>
<g id="ico3" fill="#fff">
<path fill="none" stroke="#fff" stroke-width="2.2" d="M1271.7,627.3C1274.4,621.2 1280.9,619.4 1288.9,618.6V632.0 M1319.6,627.3C1317.0,621.2 1310.5,619.4 1302.5,618.6V632.0"/>
<path d="M1292.9,618.9H1298.7L1297.6,622.2L1299.7,632.0H1292.0L1294.1,622.2Z"/>
<path d="M1282.8,599.7C1282.3,609.1 1287.5,614.7 1290.1,618.0H1301.4C1304.4,614.7 1309.2,609.1 1308.7,599.7Z"/>
<path stroke="#aa2834" stroke-width="0.9" d="M1281.7,597.8C1278.1,595.9 1279.8,592.2 1280.5,588.9C1281.9,580.0 1289.4,576.1 1295.7,576.1C1302.0,576.1 1309.5,580.0 1310.9,588.9C1311.7,592.2 1313.3,595.9 1309.7,597.8C1302.5,602.0 1288.9,602.0 1281.7,597.8Z"/>
<path fill="none" stroke="#aa2834" stroke-width="0.7" opacity="0.7" d="M1290.3,577.7L1289.6,580.5 M1301.1,577.7L1301.8,580.5"/>
<rect x="1262.7" y="627.3" width="9.8" height="49.0" rx="4.9" ry="4.4"/>
<ellipse cx="1267.6" cy="630.6" rx="1.6" ry="0.9" fill="#aa2834"/>
<rect x="1318.9" y="627.3" width="9.4" height="49.0" rx="4.7" ry="4.2"/>
<ellipse cx="1323.6" cy="630.6" rx="1.6" ry="0.9" fill="#aa2834"/>
<path fill-rule="evenodd" d="M1272.3,632.0H1319.1V672.8H1272.3Z M1275.5,635.1H1315.9V669.5H1275.5Z"/>
<polygon fill="none" stroke="#fff" stroke-width="1.7" stroke-linejoin="miter" points="1281.5,664.3 1281.5,657.3 1279.4,655.5 1284.1,650.5 1288.4,649.2 1296.9,642.5 1302.2,644.8 1302.2,641.0 1306.4,641.0 1306.4,646.8 1307.8,647.7 1306.4,648.4 1306.4,662.3 1311.4,662.3 1311.4,664.3 1295.5,664.3 1295.5,659.9 1286.4,659.9 1286.4,664.3"/>
<rect x="1294.3" y="648.4" width="3.6" height="3.9"/>
<rect x="1299.9" y="648.4" width="3.6" height="3.9"/>
<rect x="1299.9" y="653.7" width="3.6" height="3.9"/>
<rect x="1299.9" y="659.2" width="3.6" height="3.9"/>
</g>
<g id="ico4">
<polygon fill="#fff" points="1694.2,585.2 1722.0,593.4 1722.0,653.1 1694.2,667.2 1657.7,653.1 1657.7,593.4"/>
<polygon fill="#616a77" points="1662.3,599.2 1666.5,598.3 1666.5,607.2 1662.3,607.4"/>
<polygon fill="#616a77" points="1670.4,597.5 1677.8,595.9 1677.8,606.6 1670.4,607.0"/>
<polygon fill="#616a77" points="1682.1,595.0 1690.7,593.1 1690.7,605.9 1682.1,606.3"/>
<polygon fill="#616a77" points="1662.3,611.3 1666.5,611.1 1666.5,621.4 1662.3,621.1"/>
<polygon fill="#616a77" points="1670.4,610.9 1677.8,610.5 1677.8,622.4 1670.4,621.8"/>
<polygon fill="#616a77" points="1682.1,610.2 1690.7,609.8 1690.7,623.4 1682.1,622.7"/>
<polygon fill="#616a77" points="1662.3,625.4 1666.5,625.7 1666.5,636.2 1662.3,635.5"/>
<polygon fill="#616a77" points="1670.4,625.9 1677.8,626.5 1677.8,638.1 1670.4,636.9"/>
<polygon fill="#616a77" points="1682.1,626.8 1690.7,627.3 1690.7,640.2 1682.1,638.8"/>
<polygon fill="#616a77" points="1662.3,639.5 1666.5,640.2 1666.5,649.5 1662.3,648.0"/>
<polygon fill="#616a77" points="1670.4,640.9 1677.8,642.2 1677.8,653.6 1670.4,650.9"/>
<polygon fill="#616a77" points="1682.1,643.0 1690.7,644.5 1690.7,658.2 1682.1,655.1"/>
<polygon fill="#616a77" points="1698.1,593.4 1702.8,594.8 1702.8,606.2 1698.1,605.9"/>
<polygon fill="#616a77" points="1707.1,596.1 1711.8,597.5 1711.8,607.0 1707.1,606.6"/>
<polygon fill="#616a77" points="1715.3,598.5 1717.7,599.2 1717.7,607.4 1715.3,607.2"/>
<polygon fill="#616a77" points="1698.1,609.8 1702.8,610.2 1702.8,623.0 1698.1,623.4"/>
<polygon fill="#616a77" points="1707.1,610.7 1711.8,611.1 1711.8,622.1 1707.1,622.5"/>
<polygon fill="#616a77" points="1715.3,611.5 1717.7,611.7 1717.7,621.5 1715.3,621.7"/>
<polygon fill="#616a77" points="1698.1,627.3 1702.8,627.0 1702.8,639.4 1698.1,640.6"/>
<polygon fill="#616a77" points="1707.1,626.6 1711.8,626.2 1711.8,637.1 1707.1,638.3"/>
<polygon fill="#616a77" points="1715.3,626.0 1717.7,625.8 1717.7,635.5 1715.3,636.2"/>
<polygon fill="#616a77" points="1698.1,644.9 1702.8,643.7 1702.8,655.6 1698.1,657.8"/>
<polygon fill="#616a77" points="1707.1,642.6 1711.8,641.4 1711.8,651.2 1707.1,653.5"/>
<polygon fill="#616a77" points="1715.3,640.5 1717.7,639.8 1717.7,648.4 1715.3,649.6"/>
<path fill="none" stroke="#fff" stroke-width="1.6" d="M1671.6,652.0V643.4L1676.6,644.5V653.1"/>
</g>
</svg></body></html>
